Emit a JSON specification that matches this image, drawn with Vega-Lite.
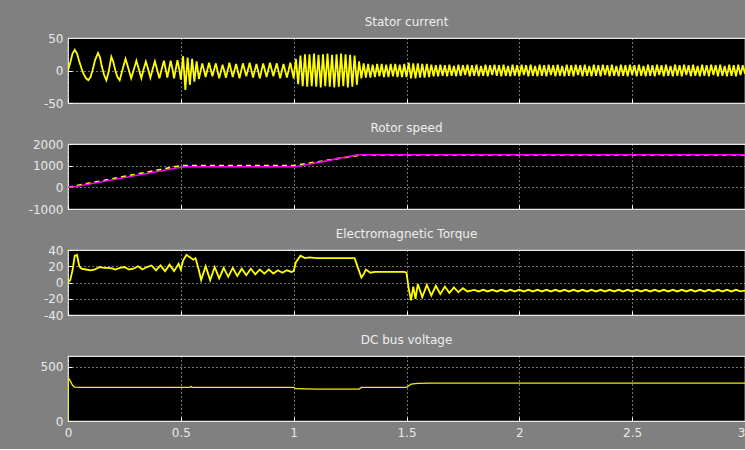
{
  "$schema": "https://vega.github.io/schema/vega-lite/v6.json",
  "background": "#808080",
  "padding": {"left": 27, "top": 15, "right": 2, "bottom": 10},
  "bounds": "flush",
  "spacing": 41,
  "config": {
    "view": {"fill": "#000000", "stroke": "#e0e0e0", "strokeWidth": 1.2},
    "axis": {"grid": true, "gridColor": "#ffffff", "gridDash": [1, 3], "gridWidth": 1, "gridOpacity": 0.9, "domain": false, "ticks": true, "tickSize": -4, "tickColor": "#ffffff", "tickWidth": 1, "labelPadding": 9, "labelColor": "#e8e8e8", "labelFont": "DejaVu Sans", "labelFontSize": 12, "labelOverlap": false, "labelFlush": false, "labelExpr": "toString(datum.value)", "title": null},
    "title": {"color": "#eeeeee", "font": "DejaVu Sans", "fontSize": 12, "fontWeight": "normal", "offset": 3, "anchor": "middle", "frame": "group"}
  },
  "datasets": {
    "cur": [
      {"t":0,"v":0},{"t":0.01,"v":12},{"t":0.02,"v":26},{"t":0.03,"v":32},{"t":0.04,"v":26},{"t":0.05,"v":14},{"t":0.06,"v":3},{"t":0.07,"v":-6},{"t":0.08,"v":-12},{"t":0.09,"v":-15},{"t":0.1,"v":-10},{"t":0.11,"v":2},{"t":0.12,"v":16},{"t":0.133,"v":27},{"t":0.142,"v":20},{"t":0.15,"v":6},{"t":0.16,"v":-7},{"t":0.17,"v":-15},{"t":0.18,"v":-2},{"t":0.192,"v":21},{"t":0.2,"v":14},{"t":0.21,"v":0},{"t":0.219,"v":-10},{"t":0.229,"v":-15},{"t":0.242,"v":2},{"t":0.255,"v":18},{"t":0.267,"v":4},{"t":0.28,"v":-12},{"t":0.292,"v":2},{"t":0.303,"v":15},{"t":0.314,"v":2},{"t":0.325,"v":-12},{"t":0.335,"v":2},{"t":0.345,"v":14},{"t":0.355,"v":2},{"t":0.365,"v":-11},{"t":0.375,"v":2},{"t":0.385,"v":14},{"t":0.395,"v":1},{"t":0.405,"v":-12},{"t":0.415,"v":2},{"t":0.425,"v":15},{"t":0.433,"v":2},{"t":0.44,"v":-11},{"t":0.448,"v":3},{"t":0.455,"v":15},{"t":0.463,"v":2},{"t":0.47,"v":-12},{"t":0.478,"v":3},{"t":0.485,"v":16},{"t":0.493,"v":2},{"t":0.5,"v":-14},
      {"t":0.51,"v":22},{"t":0.52,"v":-30},{"t":0.53,"v":20},{"t":0.54,"v":-22},{"t":0.55,"v":18},{"t":0.56,"v":-17},{"t":0.57,"v":14},{"t":0.58,"v":-13},
      {"t":0.595,"v":11},{"t":0.61,"v":-10},{"t":0.625,"v":12},{"t":0.64,"v":-9},{"t":0.655,"v":11},{"t":0.67,"v":-12},{"t":0.685,"v":9},{"t":0.7,"v":-11},{"t":0.715,"v":12},{"t":0.73,"v":-10},{"t":0.745,"v":10},{"t":0.76,"v":-12},{"t":0.775,"v":11},{"t":0.79,"v":-9},{"t":0.805,"v":12},{"t":0.82,"v":-11},{"t":0.835,"v":10},{"t":0.85,"v":-12},{"t":0.865,"v":11},{"t":0.88,"v":-10},{"t":0.895,"v":12},{"t":0.91,"v":-9},{"t":0.925,"v":11},{"t":0.94,"v":-12},{"t":0.955,"v":10},{"t":0.97,"v":-11},{"t":0.985,"v":12},{"t":1.0,"v":-12},
      {"t":1.01,"v":18},{"t":1.02,"v":-21},{"t":1.03,"v":23},{"t":1.04,"v":-24},{"t":1.05,"v":25},{"t":1.06,"v":-25},{"t":1.07,"v":25},{"t":1.08,"v":-24},{"t":1.09,"v":26},{"t":1.1,"v":-25},{"t":1.11,"v":24},{"t":1.12,"v":-26},{"t":1.13,"v":25},{"t":1.14,"v":-24},{"t":1.15,"v":26},{"t":1.16,"v":-25},{"t":1.17,"v":24},{"t":1.18,"v":-26},{"t":1.19,"v":25},{"t":1.2,"v":-25},{"t":1.21,"v":26},{"t":1.22,"v":-24},{"t":1.23,"v":25},{"t":1.24,"v":-26},{"t":1.25,"v":24},{"t":1.26,"v":-25},{"t":1.27,"v":23},{"t":1.28,"v":-22},
      {"t":1.29,"v":14},{"t":1.3,"v":-12},{"t":1.31,"v":11},{"t":1.32,"v":-11},{"t":1.33,"v":10},{"t":1.34,"v":-11},{"t":1.35,"v":9},{"t":1.36,"v":-10},{"t":1.37,"v":10},{"t":1.38,"v":-9},{"t":1.39,"v":10},{"t":1.4,"v":-10},{"t":1.41,"v":9},{"t":1.42,"v":-10},{"t":1.43,"v":10},{"t":1.44,"v":-9},{"t":1.45,"v":10},{"t":1.46,"v":-10},{"t":1.47,"v":9},{"t":1.48,"v":-10},{"t":1.49,"v":10},{"t":1.5,"v":-10},
      {"t":1.51,"v":12},{"t":1.52,"v":-12},{"t":1.53,"v":11},{"t":1.54,"v":-12},{"t":1.55,"v":11},{"t":1.56,"v":-11},{"t":1.57,"v":10},{"t":1.58,"v":-11},{"t":1.59,"v":10},{"t":1.6,"v":-10},
      {"t":1.61,"v":9},{"t":1.62,"v":-9},{"t":1.63,"v":8},{"t":1.64,"v":-9},{"t":1.65,"v":9},{"t":1.66,"v":-8},{"t":1.67,"v":8},{"t":1.68,"v":-9},{"t":1.69,"v":9},{"t":1.7,"v":-8},
      {"t":1.71,"v":7},{"t":1.72,"v":-9},{"t":1.73,"v":9},{"t":1.74,"v":-8},{"t":1.75,"v":8},{"t":1.76,"v":-7},{"t":1.77,"v":9},{"t":1.78,"v":-9},{"t":1.79,"v":8},{"t":1.8,"v":-8},
      {"t":1.81,"v":9},{"t":1.82,"v":-9},{"t":1.83,"v":7},{"t":1.84,"v":-8},{"t":1.85,"v":9},{"t":1.86,"v":-9},{"t":1.87,"v":8},{"t":1.88,"v":-7},{"t":1.89,"v":9},{"t":1.9,"v":-8},
      {"t":1.91,"v":8},{"t":1.92,"v":-9},{"t":1.93,"v":9},{"t":1.94,"v":-8},{"t":1.95,"v":7},{"t":1.96,"v":-9},{"t":1.97,"v":9},{"t":1.98,"v":-8},{"t":1.99,"v":8},{"t":2.0,"v":-9},
      {"t":2.01,"v":9},{"t":2.02,"v":-7},{"t":2.03,"v":8},{"t":2.04,"v":-9},{"t":2.05,"v":9},{"t":2.06,"v":-8},{"t":2.07,"v":7},{"t":2.08,"v":-9},{"t":2.09,"v":9},{"t":2.1,"v":-8},
      {"t":2.11,"v":8},{"t":2.12,"v":-9},{"t":2.13,"v":9},{"t":2.14,"v":-7},{"t":2.15,"v":8},{"t":2.16,"v":-9},{"t":2.17,"v":9},{"t":2.18,"v":-8},{"t":2.19,"v":7},{"t":2.2,"v":-9},
      {"t":2.21,"v":9},{"t":2.22,"v":-8},{"t":2.23,"v":8},{"t":2.24,"v":-9},{"t":2.25,"v":9},{"t":2.26,"v":-7},{"t":2.27,"v":8},{"t":2.28,"v":-9},{"t":2.29,"v":9},{"t":2.3,"v":-8},
      {"t":2.31,"v":7},{"t":2.32,"v":-9},{"t":2.33,"v":9},{"t":2.34,"v":-8},{"t":2.35,"v":8},{"t":2.36,"v":-9},{"t":2.37,"v":9},{"t":2.38,"v":-7},{"t":2.39,"v":8},{"t":2.4,"v":-9},
      {"t":2.41,"v":9},{"t":2.42,"v":-8},{"t":2.43,"v":7},{"t":2.44,"v":-9},{"t":2.45,"v":9},{"t":2.46,"v":-8},{"t":2.47,"v":8},{"t":2.48,"v":-9},{"t":2.49,"v":9},{"t":2.5,"v":-7},
      {"t":2.51,"v":8},{"t":2.52,"v":-9},{"t":2.53,"v":9},{"t":2.54,"v":-8},{"t":2.55,"v":7},{"t":2.56,"v":-9},{"t":2.57,"v":9},{"t":2.58,"v":-8},{"t":2.59,"v":8},{"t":2.6,"v":-9},
      {"t":2.61,"v":9},{"t":2.62,"v":-7},{"t":2.63,"v":8},{"t":2.64,"v":-9},{"t":2.65,"v":9},{"t":2.66,"v":-8},{"t":2.67,"v":7},{"t":2.68,"v":-9},{"t":2.69,"v":9},{"t":2.7,"v":-8},
      {"t":2.71,"v":8},{"t":2.72,"v":-9},{"t":2.73,"v":9},{"t":2.74,"v":-7},{"t":2.75,"v":8},{"t":2.76,"v":-9},{"t":2.77,"v":9},{"t":2.78,"v":-8},{"t":2.79,"v":7},{"t":2.8,"v":-9},
      {"t":2.81,"v":9},{"t":2.82,"v":-8},{"t":2.83,"v":8},{"t":2.84,"v":-9},{"t":2.85,"v":9},{"t":2.86,"v":-7},{"t":2.87,"v":8},{"t":2.88,"v":-9},{"t":2.89,"v":9},{"t":2.9,"v":-8},
      {"t":2.91,"v":7},{"t":2.92,"v":-9},{"t":2.93,"v":9},{"t":2.94,"v":-8},{"t":2.95,"v":8},{"t":2.96,"v":-9},{"t":2.97,"v":9},{"t":2.98,"v":-7},{"t":2.99,"v":8},{"t":3.0,"v":-5}
    ],
    "spd": [
      {"t":0,"v":0,"s":"ref"},{"t":0.5,"v":1000,"s":"ref"},{"t":1.0,"v":1000,"s":"ref"},{"t":1.3,"v":1500,"s":"ref"},{"t":3,"v":1500,"s":"ref"},
      {"t":0,"v":0,"s":"act"},{"t":0.02,"v":10,"s":"act"},{"t":0.5,"v":930,"s":"act"},{"t":0.53,"v":950,"s":"act"},{"t":1.0,"v":950,"s":"act"},{"t":1.02,"v":970,"s":"act"},{"t":1.28,"v":1495,"s":"act"},{"t":1.3,"v":1500,"s":"act"},{"t":3,"v":1500,"s":"act"}
    ],
    "trq": [
      {"t":0,"v":0},{"t":0.01,"v":3},{"t":0.02,"v":15},{"t":0.03,"v":33},{"t":0.04,"v":34},{"t":0.05,"v":20},{"t":0.06,"v":17},{"t":0.08,"v":16},{"t":0.1,"v":15},{"t":0.12,"v":16},{"t":0.14,"v":19},{"t":0.16,"v":18},{"t":0.18,"v":18},{"t":0.2,"v":17},{"t":0.21,"v":16},{"t":0.23,"v":18},{"t":0.25,"v":19},{"t":0.27,"v":16},{"t":0.29,"v":17},{"t":0.31,"v":20},{"t":0.33,"v":16},{"t":0.35,"v":19},{"t":0.37,"v":21},{"t":0.39,"v":15},{"t":0.41,"v":21},{"t":0.43,"v":14},{"t":0.45,"v":22},{"t":0.47,"v":14},{"t":0.49,"v":23},{"t":0.5,"v":16},
      {"t":0.51,"v":27},{"t":0.525,"v":34},{"t":0.54,"v":31},{"t":0.555,"v":28},{"t":0.565,"v":30},{"t":0.58,"v":15},{"t":0.59,"v":3},{"t":0.61,"v":20},{"t":0.63,"v":3},{"t":0.65,"v":19},{"t":0.67,"v":5},{"t":0.69,"v":18},{"t":0.71,"v":7},{"t":0.73,"v":18},{"t":0.75,"v":8},{"t":0.77,"v":17},{"t":0.79,"v":9},{"t":0.81,"v":17},{"t":0.83,"v":10},{"t":0.85,"v":16},{"t":0.87,"v":11},{"t":0.89,"v":16},{"t":0.91,"v":11},{"t":0.93,"v":15},{"t":0.95,"v":12},{"t":0.97,"v":15},{"t":0.99,"v":13},{"t":1.0,"v":14},
      {"t":1.01,"v":25},{"t":1.03,"v":33},{"t":1.05,"v":30},{"t":1.07,"v":31},{"t":1.1,"v":30},{"t":1.15,"v":30},{"t":1.2,"v":30},{"t":1.25,"v":30},{"t":1.27,"v":30},{"t":1.28,"v":22},{"t":1.3,"v":6},{"t":1.31,"v":10},{"t":1.32,"v":16},{"t":1.34,"v":12},{"t":1.36,"v":13},{"t":1.4,"v":13},{"t":1.45,"v":13},{"t":1.49,"v":13},{"t":1.5,"v":12},
      {"t":1.51,"v":-8},{"t":1.52,"v":-22},{"t":1.53,"v":-5},{"t":1.54,"v":-20},{"t":1.55,"v":-2},{"t":1.57,"v":-18},{"t":1.59,"v":-3},{"t":1.61,"v":-16},{"t":1.63,"v":-4},{"t":1.65,"v":-14},{"t":1.67,"v":-5},{"t":1.69,"v":-13},{"t":1.71,"v":-6},{"t":1.73,"v":-12},{"t":1.75,"v":-7},{"t":1.77,"v":-11},
      {"t":1.8,"v":-9},{"t":1.82,"v":-11},{"t":1.84,"v":-9},{"t":1.86,"v":-11},{"t":1.88,"v":-9},{"t":1.9,"v":-11},{"t":1.92,"v":-9},{"t":1.94,"v":-11},{"t":1.96,"v":-9},{"t":1.98,"v":-11},{"t":2.0,"v":-9},{"t":2.02,"v":-11},{"t":2.04,"v":-9},{"t":2.06,"v":-11},{"t":2.08,"v":-9},{"t":2.1,"v":-11},{"t":2.12,"v":-9},{"t":2.14,"v":-11},{"t":2.16,"v":-9},{"t":2.18,"v":-11},{"t":2.2,"v":-9},{"t":2.22,"v":-11},{"t":2.24,"v":-9},{"t":2.26,"v":-11},{"t":2.28,"v":-9},{"t":2.3,"v":-11},{"t":2.32,"v":-9},{"t":2.34,"v":-11},{"t":2.36,"v":-9},{"t":2.38,"v":-11},{"t":2.4,"v":-9},{"t":2.42,"v":-11},{"t":2.44,"v":-9},{"t":2.46,"v":-11},{"t":2.48,"v":-9},{"t":2.5,"v":-11},{"t":2.52,"v":-9},{"t":2.54,"v":-11},{"t":2.56,"v":-9},{"t":2.58,"v":-11},{"t":2.6,"v":-9},{"t":2.62,"v":-11},{"t":2.64,"v":-9},{"t":2.66,"v":-11},{"t":2.68,"v":-9},{"t":2.7,"v":-11},{"t":2.72,"v":-9},{"t":2.74,"v":-11},{"t":2.76,"v":-9},{"t":2.78,"v":-11},{"t":2.8,"v":-9},{"t":2.82,"v":-11},{"t":2.84,"v":-9},{"t":2.86,"v":-11},{"t":2.88,"v":-9},{"t":2.9,"v":-11},{"t":2.92,"v":-9},{"t":2.94,"v":-11},{"t":2.96,"v":-9},{"t":2.98,"v":-11},{"t":3.0,"v":-10}
    ],
    "dc": [
      {"t":0,"v":0},{"t":0.001,"v":400},{"t":0.01,"v":370},{"t":0.02,"v":330},{"t":0.03,"v":312},{"t":0.05,"v":310},{"t":0.54,"v":310},{"t":0.545,"v":320},{"t":0.55,"v":310},{"t":1.0,"v":310},{"t":1.01,"v":298},{"t":1.05,"v":296},{"t":1.1,"v":294},{"t":1.2,"v":294},{"t":1.29,"v":295},{"t":1.3,"v":310},{"t":1.5,"v":310},{"t":1.52,"v":340},{"t":1.55,"v":348},{"t":1.6,"v":350},{"t":3.0,"v":350}
    ]
  },
  "vconcat": [
    {
      "title": "Stator current",
      "width": 677, "height": 65,
      "data": {"name": "cur"},
      "mark": {"type": "line", "color": "#ffff00", "strokeWidth": 1.8, "clip": true},
      "encoding": {
        "x": {"field": "t", "type": "quantitative", "scale": {"domain": [0, 3], "nice": false}, "axis": {"labels": false, "values": [0, 0.5, 1, 1.5, 2, 2.5, 3]}},
        "y": {"field": "v", "type": "quantitative", "scale": {"domain": [-50, 50], "nice": false}, "axis": {"values": [-50, 0, 50]}}
      }
    },
    {
      "title": "Rotor speed",
      "width": 677, "height": 65,
      "data": {"name": "spd"},
      "encoding": {
        "x": {"field": "t", "type": "quantitative", "scale": {"domain": [0, 3], "nice": false}, "axis": {"labels": false, "values": [0, 0.5, 1, 1.5, 2, 2.5, 3]}},
        "y": {"field": "v", "type": "quantitative", "scale": {"domain": [-1000, 2000], "nice": false}, "axis": {"values": [-1000, 0, 1000, 2000]}}
      },
      "layer": [
        {
          "transform": [{"filter": "datum.s == 'ref'"}],
          "mark": {"type": "line", "color": "#ffff00", "strokeWidth": 1.8, "strokeDash": [5, 4], "clip": true}
        },
        {
          "transform": [{"filter": "datum.s == 'act'"}],
          "mark": {"type": "line", "color": "#ff00ff", "strokeWidth": 1.5, "clip": true}
        }
      ]
    },
    {
      "title": "Electromagnetic Torque",
      "width": 677, "height": 65,
      "data": {"name": "trq"},
      "mark": {"type": "line", "color": "#ffff00", "strokeWidth": 1.8, "clip": true},
      "encoding": {
        "x": {"field": "t", "type": "quantitative", "scale": {"domain": [0, 3], "nice": false}, "axis": {"labels": false, "values": [0, 0.5, 1, 1.5, 2, 2.5, 3]}},
        "y": {"field": "v", "type": "quantitative", "scale": {"domain": [-40, 40], "nice": false}, "axis": {"values": [-40, -20, 0, 20, 40]}}
      }
    },
    {
      "title": {"text": "DC bus voltage", "offset": 9},
      "width": 677, "height": 65,
      "data": {"name": "dc"},
      "mark": {"type": "line", "color": "#f0f000", "strokeWidth": 1.3, "clip": true},
      "encoding": {
        "x": {"field": "t", "type": "quantitative", "scale": {"domain": [0, 3], "nice": false}, "axis": {"values": [0, 0.5, 1, 1.5, 2, 2.5, 3], "labelPadding": 10, "labelAlign": {"condition": {"test": "datum.value == 3", "value": "right"}, "value": "center"}}},
        "y": {"field": "v", "type": "quantitative", "scale": {"domain": [0, 600], "nice": false}, "axis": {"values": [0, 500]}}
      }
    }
  ]
}
